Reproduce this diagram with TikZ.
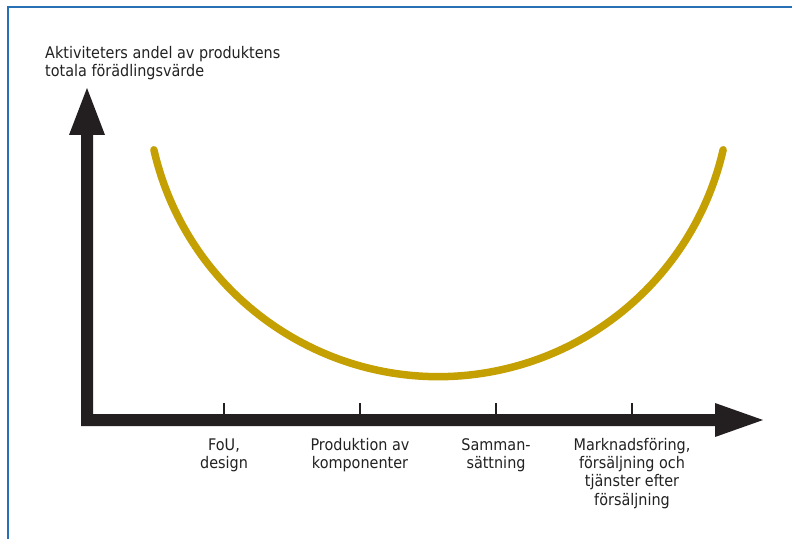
\documentclass[tikz,border=0pt]{standalone}
\usepackage{fontspec}
\setmainfont{DejaVu Sans}[FakeStretch=0.9]
\definecolor{frameblue}{RGB}{40,112,182}
\definecolor{axisblack}{RGB}{35,31,32}
\definecolor{curvegold}{RGB}{197,160,3}
\definecolor{labelgray}{RGB}{34,34,34}
\begin{document}
\begin{tikzpicture}[x=1pt,y=1pt,
  label/.style={inner sep=0pt, text=labelgray, align=center,
    font=\fontsize{16}{18.4}\selectfont},
  tick/.style={draw=axisblack, line width=2pt},
  curve/.style={draw=curvegold, line width=7.5pt, line cap=round}]
\useasboundingbox (0,0) rectangle (792,539);
\fill[white] (0,0) rectangle (792,539);

% frame lines at top and left
\draw[frameblue, line width=1.3pt] (8,0) -- (8,532) -- (792,532);

% axes with arrow heads, drawn as one filled outline
\fill[axisblack] (81,113) -- (81,404) -- (69,404) -- (87,451) -- (105,404)
  -- (93,404) -- (93,125) -- (715,125) -- (715,136) -- (763,119)
  -- (715,102) -- (715,113) -- cycle;

% ticks on the horizontal axis
\foreach \tx/\nm in {224/t1,360/t2,496/t3,632/t4}{
  \coordinate (\nm) at (\tx,136);
  \draw[tick] (\nm) -- (\tx,125);
}

% value curve
\draw[curve] (153.9,389.2) arc[start angle=192.9, end angle=347.1, radius=292];

% axis title (base anchor sits on the last line)
\node[label, align=left, anchor=base west] (title) at (45,462.3)
  {Aktiviteters andel av produktens\\totala förädlingsvärde};

% activity labels (base anchor sits on the last line)
\node[label, anchor=base] (fou)  at (224,70.6) {FoU,\\design};
\node[label, anchor=base] (prod) at (360,70.6) {Produktion av\\komponenter};
\node[label, anchor=base] (samm) at (496,70.6) {Samman-\\sättning};
\node[label, anchor=base] (mark) at (632,33.8) {Marknadsföring,\\försäljning och\\tjänster efter\\försäljning};
\end{tikzpicture}
\end{document}
